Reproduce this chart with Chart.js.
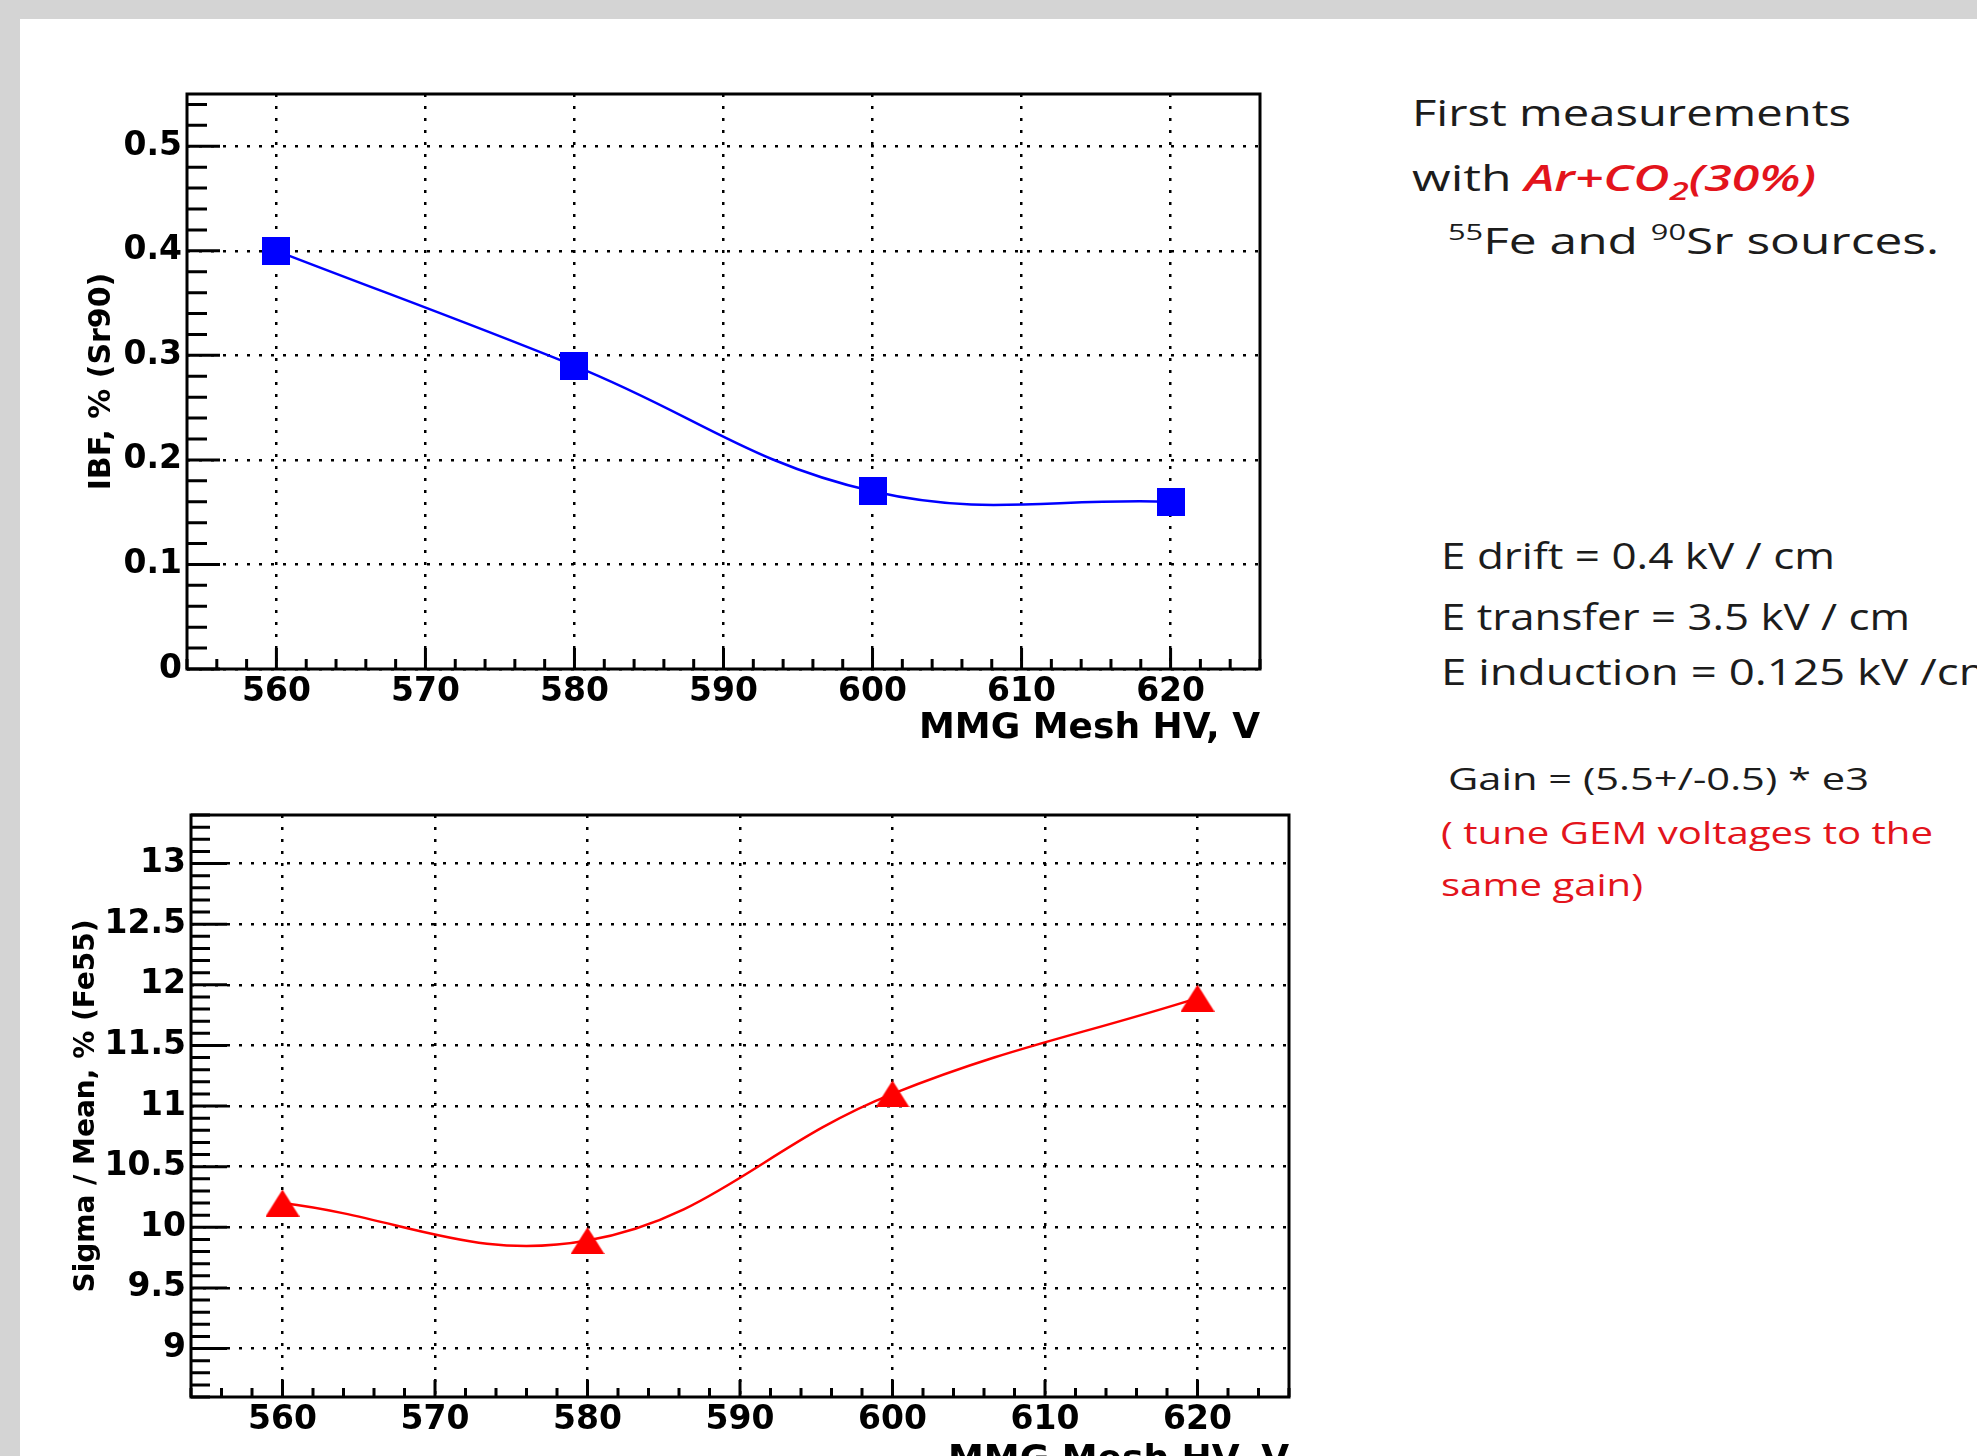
<!DOCTYPE html>
<html>
<head>
<meta charset="utf-8">
<script src="https://cdn.jsdelivr.net/npm/chart.js@4.4.0/dist/chart.umd.min.js"></script>
<style>
  html, body { margin: 0; padding: 0; }
  body { width: 1977px; height: 1456px; overflow: hidden; background: #d4d4d4; position: relative; font-family: "Open Sans", sans-serif; }
  #sheet { position: absolute; left: 20px; top: 19px; right: 0; bottom: 0; background: #fff; }
  .box { position: absolute; }
  .txt { position: absolute; white-space: nowrap; transform-origin: 0 50%; color: #1c1c1c; line-height: 50px; height: 50px; }
  .big { font-size: 36px; }
  .small { font-size: 31px; }
  .red { color: #e3141c; }
  .gas { font-style: italic; font-weight: 600; }
  sup { font-size: 0.62em; vertical-align: 0.62em; line-height: 0; }
  sub { font-size: 0.7em; vertical-align: -0.35em; line-height: 0; }
</style>
</head>
<body>
<div id="sheet"></div>
<div class="box" style="left:0;top:0;width:1300px;height:750px"><canvas id="ibf"></canvas></div>
<div class="box" style="left:0;top:700px;width:1330px;height:782px"><canvas id="res"></canvas></div>

<div class="txt big" data-w="439" style="left:1412px;top:88px">First measurements</div>
<div class="txt big" data-w="404" style="left:1412px;top:153px">with <span class="red gas">Ar+CO<sub>2</sub>(30%)</span></div>
<div class="txt big" data-w="491" style="left:1448px;top:216px"><sup>55</sup>Fe and <sup>90</sup>Sr sources.</div>

<div class="txt big" data-w="394" style="left:1441px;top:531px">E drift = 0.4 kV / cm</div>
<div class="txt big" data-w="469" style="left:1441px;top:592px">E transfer = 3.5 kV / cm</div>
<div class="txt big" data-w="560" style="left:1441px;top:647px">E induction = 0.125 kV /cm</div>

<div class="txt small" data-w="421" style="left:1448px;top:753px">Gain = (5.5+/-0.5) * e3</div>
<div class="txt small red" data-w="492" style="left:1441px;top:807px">( tune GEM voltages to the</div>
<div class="txt small red" data-w="202" style="left:1441px;top:859px">same gain)</div>

<script>
// measured points, MMG mesh HV scan
const hvVolts = [560, 580, 600, 620];
const ibfPercent = [0.40, 0.29, 0.17, 0.16];        // IBF, % (Sr90)
const sigmaOverMean = [10.2, 9.89, 11.1, 11.89];    // Sigma / Mean, % (Fe55)

// axis ticks
const hvTicks = [560, 570, 580, 590, 600, 610, 620];
const hvTickLabels = ['560', '570', '580', '590', '600', '610', '620'];
const ibfTicks = [0, 0.1, 0.2, 0.3, 0.4, 0.5];
const ibfTickLabels = ['0', '0.1', '0.2', '0.3', '0.4', '0.5'];
const sigmaTicks = [9, 9.5, 10, 10.5, 11, 11.5, 12, 12.5, 13];
const sigmaTickLabels = ['9', '9.5', '10', '10.5', '11', '11.5', '12', '12.5', '13'];

// stretch the text lines to the widths they have on the slide
document.querySelectorAll('.txt').forEach(el => {
    const w = el.getBoundingClientRect().width;
    el.style.transform = 'scaleX(' + (parseFloat(el.dataset.w) / w) + ')';
});

// filled marker shapes, centred on the point like ROOT does
function marker(w, h, color, shape) {
    const c = document.createElement('canvas');
    c.width = w;
    c.height = h;
    const g = c.getContext('2d');
    g.fillStyle = color;
    if (shape === 'triangle') {
        g.beginPath();
        g.moveTo(w / 2, 0);
        g.lineTo(w, h);
        g.lineTo(0, h);
        g.closePath();
        g.fill();
    } else {
        g.fillRect(0, 0, w, h);
    }
    return c;
}

// frame and inward tick marks (major + minor), ROOT style
const rootFrame = {
    id: 'rootFrame',
    afterDatasetsDraw(chart, args, o) {
        const { ctx, chartArea: a, scales: { x, y } } = chart;
        ctx.save();
        ctx.strokeStyle = '#000';
        ctx.lineWidth = 3;
        ctx.beginPath();
        const minorList = (scale, step, majors) => {
            const out = [];
            for (let k = Math.ceil(scale.min / step - 1e-6); k * step <= scale.max + 1e-9; k++) {
                const v = k * step;
                if (!majors.some(m => Math.abs(m - v) < step / 10)) out.push(v);
            }
            return out;
        };
        o.xMajor.forEach(v => {
            const px = x.getPixelForValue(v);
            ctx.moveTo(px, a.bottom); ctx.lineTo(px, a.bottom - o.xMajorLen);
        });
        minorList(x, o.xMinorStep, o.xMajor).forEach(v => {
            const px = x.getPixelForValue(v);
            ctx.moveTo(px, a.bottom); ctx.lineTo(px, a.bottom - o.xMinorLen);
        });
        o.yMajor.forEach(v => {
            const py = y.getPixelForValue(v);
            ctx.moveTo(a.left, py); ctx.lineTo(a.left + o.yMajorLen, py);
        });
        minorList(y, o.yMinorStep, o.yMajor).forEach(v => {
            const py = y.getPixelForValue(v);
            ctx.moveTo(a.left, py); ctx.lineTo(a.left + o.yMinorLen, py);
        });
        ctx.stroke();
        ctx.strokeRect(a.left, a.top, a.right - a.left, a.bottom - a.top);
        ctx.restore();
    }
};

const tickFont = { family: 'DejaVu Sans', weight: 'bold', size: 33 };

function drawGraph(canvasId, values, color, pointImg, cfg) {
    new Chart(document.getElementById(canvasId), {
        type: 'line',
        data: {
            datasets: [{
                data: hvVolts.map((v, i) => ({ x: v, y: values[i] })),
                borderColor: color,
                borderWidth: 2.5,
                tension: 0.4,
                pointStyle: pointImg,
                pointRadius: 14,
                fill: false
            }]
        },
        options: {
            responsive: true,
            maintainAspectRatio: false,
            animation: false,
            devicePixelRatio: 1,
            events: [],
            layout: { padding: { top: cfg.padTop, right: cfg.padRight, left: 0, bottom: 0 } },
            plugins: {
                legend: { display: false },
                tooltip: { enabled: false },
                rootFrame: cfg.frame
            },
            scales: {
                x: {
                    type: 'linear',
                    min: 554,
                    max: 626,
                    afterBuildTicks: s => { s.ticks = hvTicks.map(v => ({ value: v })); },
                    afterFit: s => { s.height = cfg.xHeight; },
                    grid: { color: '#000', lineWidth: 2.5, drawTicks: false },
                    border: { display: false, dash: [3, 9] },
                    ticks: {
                        font: tickFont, color: '#000', padding: 4, maxRotation: 0, autoSkip: false,
                        callback: (v, i) => hvTickLabels[i]
                    },
                    title: {
                        display: true, text: 'MMG Mesh HV, V', align: 'end', color: '#000',
                        font: { family: 'DejaVu Sans', weight: 'bold', size: 36 },
                        padding: { top: 0, bottom: 0 }
                    }
                },
                y: {
                    min: cfg.yMin,
                    max: cfg.yMax,
                    afterBuildTicks: s => { s.ticks = cfg.yTicks.map(v => ({ value: v })); },
                    afterFit: s => { s.width = cfg.yWidth; },
                    grid: { color: '#000', lineWidth: 2.5, drawTicks: false },
                    border: { display: false, dash: [3, 9] },
                    ticks: {
                        font: tickFont, color: '#000', padding: 5, autoSkip: false,
                        callback: (v, i) => cfg.yLabels[i]
                    },
                    title: {
                        display: true, text: cfg.yTitle, color: '#000',
                        font: { family: 'DejaVu Sans', weight: 'bold', size: cfg.yTitleSize },
                        padding: { top: cfg.yTitlePad, bottom: 0 }
                    }
                }
            }
        },
        plugins: [rootFrame]
    });
}

drawGraph('ibf', ibfPercent, '#0000ff', marker(28, 28, '#0000ff', 'square'), {
    padTop: 94, padRight: 40, xHeight: 81, yWidth: 187,
    yMin: 0, yMax: 0.55, yTicks: ibfTicks, yLabels: ibfTickLabels,
    yTitle: 'IBF, % (Sr90)', yTitleSize: 30, yTitlePad: 84,
    frame: { xMajor: hvTicks, xMinorStep: 2, xMajorLen: 21, xMinorLen: 10,
             yMajor: ibfTicks, yMinorStep: 0.02, yMajorLen: 33, yMinorLen: 20 }
});

drawGraph('res', sigmaOverMean, '#ff0000', marker(34, 27, '#ff0000', 'triangle'), {
    padTop: 115, padRight: 41, xHeight: 85, yWidth: 191,
    yMin: 8.6, yMax: 13.4, yTicks: sigmaTicks, yLabels: sigmaTickLabels,
    yTitle: 'Sigma / Mean, % (Fe55)', yTitleSize: 28, yTitlePad: 70,
    frame: { xMajor: hvTicks, xMinorStep: 2, xMajorLen: 17, xMinorLen: 9,
             yMajor: sigmaTicks, yMinorStep: 0.1, yMajorLen: 36, yMinorLen: 19 }
});
</script>
</body>
</html>
